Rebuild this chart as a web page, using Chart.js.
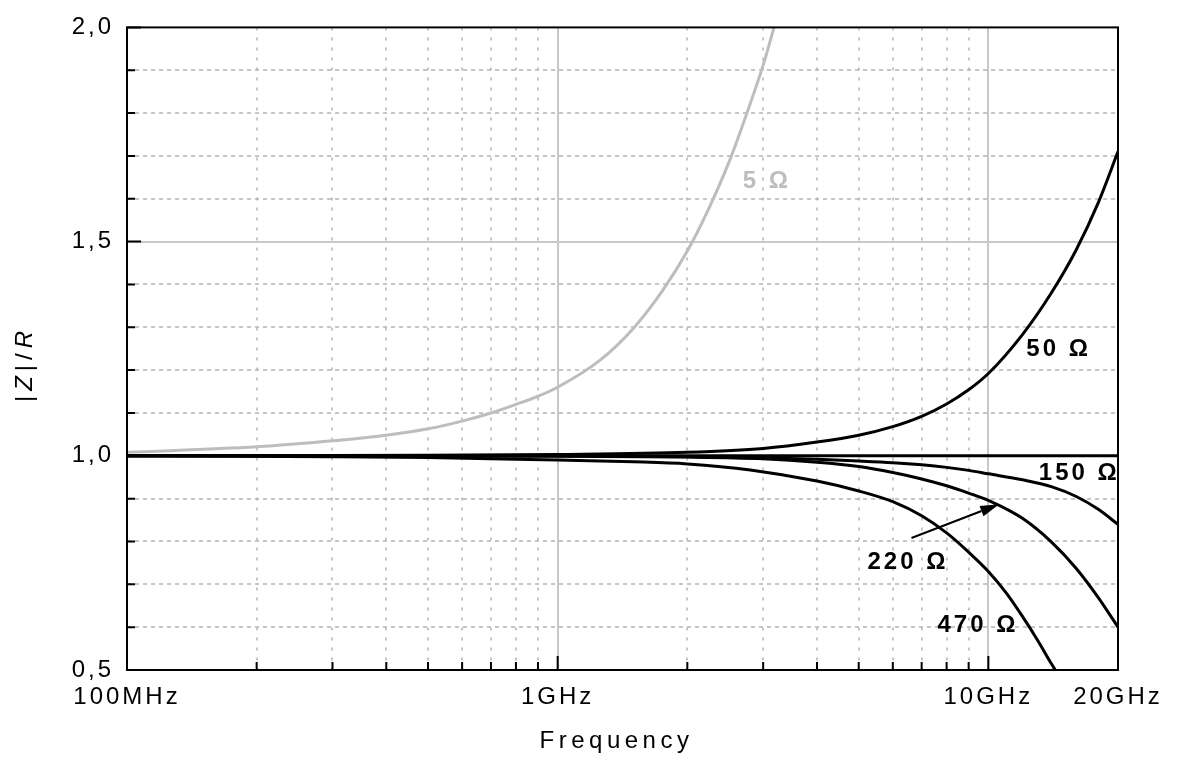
<!DOCTYPE html>
<html>
<head>
<meta charset="utf-8">
<script src="https://cdn.jsdelivr.net/npm/chart.js@4.4.1/dist/chart.umd.min.js"></script>
<style>
  body { margin: 0; background: #fff; }
</style>
</head>
<body>
<canvas id="impChart" width="1178" height="770"></canvas>
<script>
// frequency in GHz, value = |Z|/R
var freq5 = [0.1, 0.2, 0.3, 0.4, 0.5, 0.6, 0.7, 0.8, 0.9, 1, 1.25, 1.5, 1.75, 2, 2.25, 2.5, 2.75, 3, 3.2];
var zr5 = [1.008, 1.021, 1.035, 1.048, 1.063, 1.081, 1.10, 1.12, 1.139, 1.16, 1.222, 1.298, 1.385, 1.478, 1.58, 1.686, 1.80, 1.912, 2.01];

var freq50 = [0.1, 0.5, 1, 2, 3, 4, 5, 6, 7, 8, 9, 10, 12, 14, 16, 18, 20];
var zr50 = [1.0, 1.001, 1.003, 1.008, 1.017, 1.032, 1.048, 1.068, 1.092, 1.121, 1.154, 1.192, 1.283, 1.38, 1.481, 1.591, 1.71];

var freq150 = [0.1, 1, 2, 3, 4, 5, 6, 7, 8, 9, 10, 12, 14, 16, 18, 20];
var zr150 = [1.0, 1.0, 0.998, 0.995, 0.992, 0.988, 0.984, 0.979, 0.973, 0.966, 0.958, 0.944, 0.928, 0.905, 0.875, 0.84];

var freq220 = [0.1, 1, 2, 3, 4, 5, 6, 7, 8, 9, 10, 12, 14, 16, 18, 20];
var zr220 = [1.0, 0.999, 0.997, 0.993, 0.985, 0.975, 0.961, 0.946, 0.93, 0.913, 0.896, 0.854, 0.799, 0.737, 0.669, 0.60];

var freq470 = [0.1, 0.3, 0.5, 1, 1.5, 2, 2.8, 4, 5, 6, 7, 8, 9, 10, 11, 12, 13, 14, 14.3];
var zr470 = [1.0, 0.998, 0.996, 0.99, 0.986, 0.981, 0.967, 0.941, 0.918, 0.893, 0.86, 0.82, 0.775, 0.73, 0.68, 0.625, 0.57, 0.515, 0.5];

// reference line |Z|/R = 1
var freqRef = [0.1, 20];
var zrRef = [1.0, 1.0];

var xTickValues = [1e8, 1e9, 1e10, 2e10];
var xTickLabels = ['100MHz', '1GHz', '10GHz', '20GHz'];

// curve captions (anchor in GHz / |Z|/R)
var captionText = ['5 Ω', '50 Ω', '150 Ω', '220 Ω', '470 Ω'];
var captionFreq = [2.69, 12.25, 13.1, 5.24, 7.62];
var captionValue = [1.64, 1.248, 0.958, 0.752, 0.604];

// arrow from the 220 caption to its curve
var arrowFreq = [6.63, 10.6];
var arrowValue = [0.808, 0.887];

var GRAY = '#bdbdbd';
var FONT = '"Liberation Sans", Arial, sans-serif';

function points(f, z) {
    return f.map(function (v, i) { return { x: v * 1e9, y: z[i] }; });
}

// letter spacing like the original axis text
var spacing = {
    id: 'spacing',
    beforeUpdate: function (c) { c.ctx.letterSpacing = '3px'; },
    beforeLayout: function (c) { c.ctx.letterSpacing = '3px'; },
    beforeDraw: function (c) { c.ctx.letterSpacing = '3px'; }
};

var frame = {
    id: 'frame',
    beforeDatasetsDraw: function (chart) {
        var ctx = chart.ctx, a = chart.chartArea, xs = chart.scales.x, ys = chart.scales.y;
        ctx.save();
        // minor grid, dashed
        ctx.strokeStyle = '#b4b4b4';
        ctx.lineWidth = 1.5;
        ctx.setLineDash([3, 7]);
        [1e8, 1e9].forEach(function (dec) {
            for (var k = 2; k <= 9; k++) {
                var px = Math.round(xs.getPixelForValue(dec * k));
                ctx.beginPath(); ctx.moveTo(px, a.top); ctx.lineTo(px, a.bottom); ctx.stroke();
            }
        });
        ctx.setLineDash([4, 4]);
        for (var i = 6; i < 20; i++) {
            if (i === 10 || i === 15) continue;
            var py = Math.round(ys.getPixelForValue(i / 10));
            ctx.beginPath(); ctx.moveTo(a.left, py); ctx.lineTo(a.right, py); ctx.stroke();
        }
        // major grid, solid gray
        ctx.setLineDash([]);
        ctx.strokeStyle = '#c8c8c8';
        ctx.lineWidth = 2;
        [1e9, 1e10].forEach(function (v) {
            var px = Math.round(xs.getPixelForValue(v));
            ctx.beginPath(); ctx.moveTo(px, a.top); ctx.lineTo(px, a.bottom); ctx.stroke();
        });
        var p15 = Math.round(ys.getPixelForValue(1.5));
        ctx.beginPath(); ctx.moveTo(a.left, p15); ctx.lineTo(a.right, p15); ctx.stroke();
        ctx.restore();
    },
    afterDatasetsDraw: function (chart) {
        var ctx = chart.ctx, a = chart.chartArea, xs = chart.scales.x, ys = chart.scales.y;
        ctx.save();
        ctx.strokeStyle = '#000';
        ctx.lineWidth = 2;
        ctx.strokeRect(a.left, a.top, a.right - a.left, a.bottom - a.top);
        // inward tick marks
        ctx.beginPath();
        for (var i = 5; i <= 20; i++) {
            var py = ys.getPixelForValue(i / 10);
            var len = (i % 5 === 0) ? 14 : 8;
            ctx.moveTo(a.left, py); ctx.lineTo(a.left + len, py);
        }
        [1e8, 1e9].forEach(function (dec) {
            for (var k = 2; k <= 10; k++) {
                var px = xs.getPixelForValue(dec * k);
                var l2 = (k === 10) ? 14 : 8;
                ctx.moveTo(px, a.bottom); ctx.lineTo(px, a.bottom - l2);
            }
        });
        ctx.stroke();

        // captions
        ctx.letterSpacing = '3px';
        ctx.font = 'bold 24px ' + FONT;
        ctx.textAlign = 'left';
        ctx.textBaseline = 'middle';
        captionText.forEach(function (t, i) {
            ctx.fillStyle = i === 0 ? GRAY : '#000';
            ctx.fillText(t, xs.getPixelForValue(captionFreq[i] * 1e9), ys.getPixelForValue(captionValue[i]));
        });

        // arrow
        var x0 = xs.getPixelForValue(arrowFreq[0] * 1e9), y0 = ys.getPixelForValue(arrowValue[0]);
        var x1 = xs.getPixelForValue(arrowFreq[1] * 1e9), y1 = ys.getPixelForValue(arrowValue[1]);
        var ang = Math.atan2(y1 - y0, x1 - x0), hl = 19, hw = 5.5;
        var bx = x1 - hl * Math.cos(ang), by = y1 - hl * Math.sin(ang);
        ctx.lineWidth = 2;
        ctx.beginPath(); ctx.moveTo(x0, y0); ctx.lineTo(bx, by); ctx.stroke();
        ctx.fillStyle = '#000';
        ctx.beginPath();
        ctx.moveTo(x1, y1);
        ctx.lineTo(bx + hw * Math.sin(ang), by - hw * Math.cos(ang));
        ctx.lineTo(bx - hw * Math.sin(ang), by + hw * Math.cos(ang));
        ctx.closePath(); ctx.fill();

        // x title
        ctx.letterSpacing = '4.5px';
        ctx.font = '24px ' + FONT;
        ctx.textAlign = 'center';
        ctx.fillText('Frequency', (a.left + a.right) / 2 - 6, 741);

        // y title |Z|/R with italic letters
        ctx.letterSpacing = '5px';
        ctx.translate(25, 364);
        ctx.rotate(-Math.PI / 2);
        var parts = [['|', ''], ['Z', 'italic '], ['|/', ''], ['R', 'italic ']];
        var total = 0;
        parts.forEach(function (p) { ctx.font = p[1] + '24px ' + FONT; total += ctx.measureText(p[0]).width; });
        var cx = -total / 2;
        ctx.textAlign = 'left';
        parts.forEach(function (p) {
            ctx.font = p[1] + '24px ' + FONT;
            ctx.fillText(p[0], cx, 0);
            cx += ctx.measureText(p[0]).width;
        });
        ctx.restore();
    }
};

var ctx = document.getElementById('impChart').getContext('2d');

var lineStyle = function (label, f, z, color) {
    return {
        label: label,
        data: points(f, z),
        borderColor: color,
        borderWidth: 3,
        pointRadius: 0,
        fill: false,
        cubicInterpolationMode: 'monotone'
    };
};

var impChart = new Chart(ctx, {
    type: 'line',
    data: {
        datasets: [
            lineStyle('1', freqRef, zrRef, '#000'),
            lineStyle('5 Ω', freq5, zr5, GRAY),
            lineStyle('50 Ω', freq50, zr50, '#000'),
            lineStyle('150 Ω', freq150, zr150, '#000'),
            lineStyle('220 Ω', freq220, zr220, '#000'),
            lineStyle('470 Ω', freq470, zr470, '#000')
        ]
    },
    options: {
        responsive: false,
        animation: false,
        layout: { padding: { top: 22, right: 60, left: 0, bottom: 0 } },
        plugins: { legend: { display: false }, tooltip: { enabled: false } },
        scales: {
            x: {
                type: 'logarithmic',
                min: 1e8,
                max: 2e10,
                grid: { display: false, drawTicks: false },
                border: { display: false },
                afterBuildTicks: function (scale) {
                    scale.ticks = xTickValues.map(function (v) { return { value: v }; });
                },
                afterFit: function (scale) { scale.height = 100; },
                ticks: {
                    autoSkip: false,
                    maxRotation: 0,
                    padding: 13,
                    color: '#000',
                    font: { family: FONT, size: 24 },
                    callback: function (v) {
                        var i = xTickValues.indexOf(v);
                        return i >= 0 ? xTickLabels[i] : '';
                    }
                }
            },
            y: {
                min: 0.5,
                max: 2.0,
                grid: { display: false, drawTicks: false },
                border: { display: false },
                afterFit: function (scale) { scale.width = 127; },
                ticks: {
                    stepSize: 0.1,
                    autoSkip: false,
                    padding: 13,
                    color: '#000',
                    font: { family: FONT, size: 24 },
                    callback: function (v) {
                        var t = Math.round(v * 10);
                        return t % 5 === 0 ? (t / 10).toFixed(1).replace('.', ',') : '';
                    }
                }
            }
        }
    },
    plugins: [spacing, frame]
});
</script>
</body>
</html>
